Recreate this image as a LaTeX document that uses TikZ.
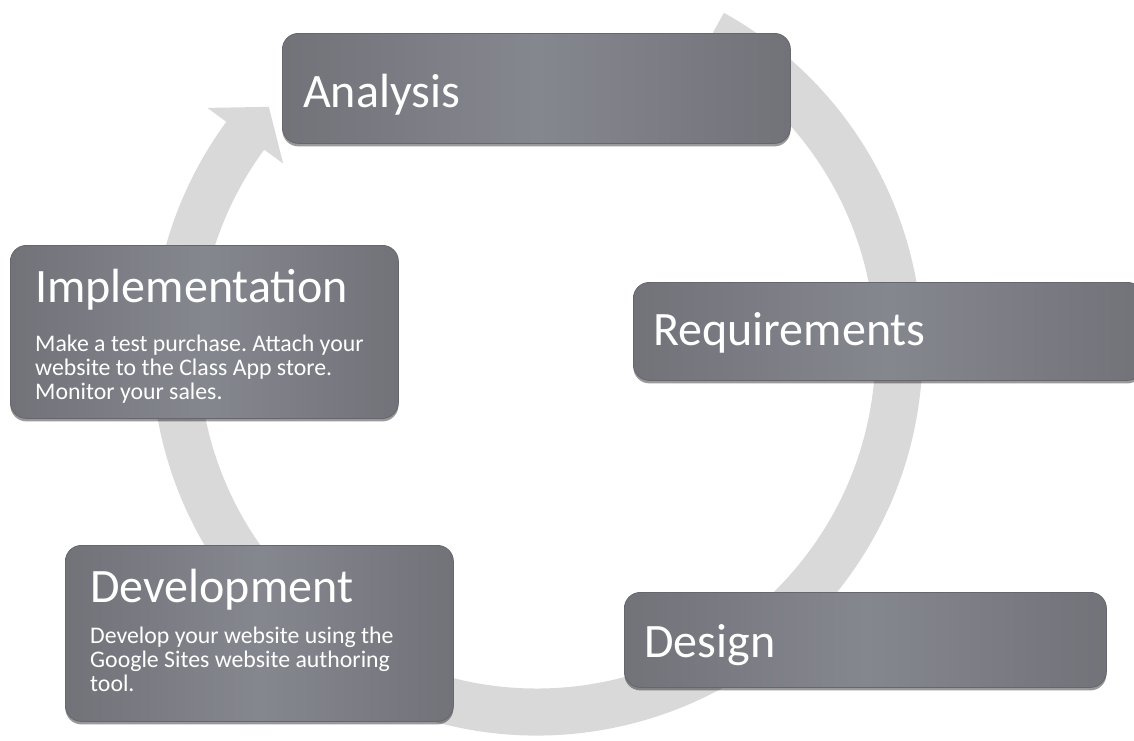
\documentclass[tikz,border=0pt]{standalone}
\usepackage{fontspec}
\setmainfont{Carlito}
\usetikzlibrary{shadows,calc}
\definecolor{ringc}{HTML}{D9D9D9}
\definecolor{boxmid}{HTML}{85878F}
\definecolor{boxedge}{HTML}{727279}
\definecolor{boxline}{HTML}{66666C}
\tikzset{
  stagebox/.style={draw=boxline, line width=0.8pt, rounded corners=16pt,
    left color=boxedge, right color=boxedge, middle color=boxmid,
    drop shadow={shadow xshift=0pt, shadow yshift=-3pt, opacity=0.4, fill=black},
    inner sep=0pt, anchor=north west},
  titletext/.style={anchor=base west, text=white, font=\fontsize{48}{50}\selectfont, inner sep=0pt},
  bodytext/.style={anchor=base west, text=white, font=\fontsize{23.8}{24}\selectfont, inner sep=0pt},
}
\frenchspacing
\begin{document}
\begin{tikzpicture}[x=1pt,y=-1pt]
\useasboundingbox (0,0) rectangle (1134,740);
\clip (0,0) rectangle (1134,740);
% ring arrow
\coordinate (c) at (537,350);
\fill[ringc] ($(c)+(-61:385.5)$) arc[start angle=-61, end angle=216.3, radius=385.5]
  -- ($(c)+(216.3:409)$) -- ($(c)+(222.2:362)$) -- ($(c)+(216.3:315)$)
  -- ($(c)+(216.3:338.5)$) arc[start angle=216.3, end angle=-61, radius=338.5] -- cycle;
% boxes
\node[stagebox, minimum width=508pt, minimum height=110pt] (analysis) at (282,33) {};
\node[stagebox, minimum width=510pt, minimum height=98pt] (requirements) at (633,282) {};
\node[stagebox, minimum width=482pt, minimum height=95pt] (design) at (624,592) {};
\node[stagebox, minimum width=388pt, minimum height=173pt] (implementation) at (10,245) {};
\node[stagebox, minimum width=388pt, minimum height=176pt] (development) at (65,545) {};
% titles
\node[titletext] (tA) at (303,107) {Analysis};
\node[titletext] (tR) at (653,345) {Requirements};
\node[titletext] (tD) at (644,657) {Design};
\node[titletext] (tI) at (35,302) {Implementation};
\node[titletext] (tV) at (90,602) {Development};
% body texts
\node[bodytext] (i1) at (35,351) {Make a test purchase. Attach your};
\node[bodytext] (i2) at (35,375) {website to the Class App store.};
\node[bodytext] (i3) at (35,399) {Monitor your sales.};
\node[bodytext] (v1) at (90,643) {Develop your website using the};
\node[bodytext] (v2) at (90,667) {Google Sites website authoring};
\node[bodytext] (v3) at (90,691) {tool.};
\end{tikzpicture}
\end{document}
